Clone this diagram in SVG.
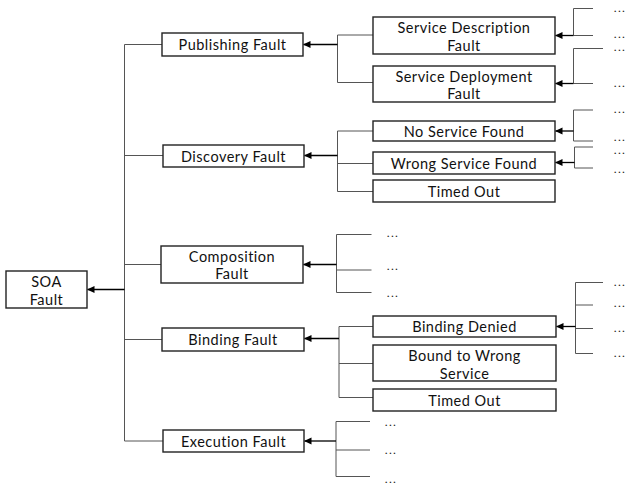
<svg xmlns="http://www.w3.org/2000/svg" width="629" height="487" viewBox="0 0 629 487">
<defs>
<style>
.box{fill:#fff;stroke:#222;stroke-width:1.4}
.t{font-family:Lato,"Open Sans","Liberation Sans",sans-serif;font-size:14.5px;letter-spacing:0.5px;fill:#111;text-anchor:middle;dominant-baseline:central}
.d{font-family:Lato,"Liberation Sans",sans-serif;font-size:10px;fill:#222;font-weight:bold;letter-spacing:1.8px}
.ln{fill:none;stroke:#555;stroke-width:1}
.ar{fill:none;stroke:#000;stroke-width:1.3;marker-end:url(#ah)}
</style>
<marker id="ah" markerUnits="userSpaceOnUse" markerWidth="8" markerHeight="8" viewBox="0 0 8 8" refX="7" refY="4" orient="auto">
<path d="M0,0.5 L7.5,4 L0,7.5 Z" fill="#000"/>
</marker>
</defs>
<rect width="629" height="487" fill="#fff"/>

<g id="connectors">
<!-- main trunk -->
<path class="ln" d="M124.5,44.5 V441 M124.5,44.5 H162 M124.5,155.5 H163 M124.5,264.5 H161 M124.5,339.5 H162 M124.5,441 H163"/>
<path class="ar" d="M124.5,289.5 H87.5"/>
<!-- publishing -->
<path class="ln" d="M337.5,35 V82.5 M337.5,35 H373 M337.5,82.5 H373"/>
<path class="ar" d="M337.5,44.5 H303.5"/>
<!-- discovery -->
<path class="ln" d="M337.5,131 V191.5 M337.5,131 H373 M337.5,163.5 H373 M337.5,191.5 H373"/>
<path class="ar" d="M337.5,155.5 H304.5"/>
<!-- composition -->
<path class="ln" d="M336.5,234.5 V292.5 M336.5,234.5 H371.5 M336.5,270 H371.5 M336.5,292.5 H371.5"/>
<path class="ar" d="M336.5,264.5 H303.5"/>
<!-- binding -->
<path class="ln" d="M339,326.5 V397.5 M339,326.5 H373 M339,363.5 H373 M339,397.5 H373"/>
<path class="ar" d="M339,338.5 H304.5"/>
<!-- execution -->
<path class="ln" d="M336,421.5 V476.5 M336,421.5 H370 M336,450 H370 M336,476.5 H370"/>
<path class="ar" d="M336,441 H304.5"/>
<!-- service description sub -->
<path class="ln" d="M573.5,8.5 V35.5 M573.5,8.5 H593 M573.5,35.5 H593"/>
<path class="ar" d="M573.5,35.5 H555.5"/>
<!-- service deployment sub -->
<path class="ln" d="M573.5,48.5 V83.5 M573.5,48.5 H603 M573.5,83.5 H593"/>
<path class="ar" d="M573.5,83.5 H555.5"/>
<!-- no service found sub -->
<path class="ln" d="M573.5,110 V141 M573.5,110 H593 M573.5,141 H593"/>
<path class="ar" d="M573.5,131 H555.5"/>
<!-- wrong service found sub -->
<path class="ln" d="M574.5,147 V168 M574.5,147 H593 M574.5,168 H593"/>
<path class="ar" d="M574.5,162.5 H555.5"/>
<!-- binding denied sub -->
<path class="ln" d="M575.5,282.5 V353.5 M575.5,282.5 H603 M575.5,305 H593 M575.5,328.5 H593 M575.5,353.5 H593"/>
<path class="ar" d="M575.5,326.5 H556.5"/>
</g>

<g id="soa"><rect class="box" x="6" y="271" width="81" height="37"/><text class="t" x="46.5" y="281">SOA</text><text class="t" x="46.5" y="299">Fault</text></g>
<g id="publishing"><rect class="box" x="162" y="33" width="141" height="23"/><text class="t" x="232.5" y="44.5">Publishing Fault</text></g>
<g id="discovery"><rect class="box" x="163" y="145" width="141" height="22"/><text class="t" x="233.5" y="156">Discovery Fault</text></g>
<g id="composition"><rect class="box" x="161" y="246" width="142" height="37"/><text class="t" x="232" y="256">Composition</text><text class="t" x="232" y="273.5">Fault</text></g>
<g id="binding"><rect class="box" x="162" y="328" width="142" height="23"/><text class="t" x="233" y="339.5">Binding Fault</text></g>
<g id="execution"><rect class="box" x="163" y="430" width="141" height="22"/><text class="t" x="233.5" y="441">Execution Fault</text></g>

<g id="svc-description"><rect class="box" x="373" y="17" width="182" height="37"/><text class="t" x="464" y="27.5">Service Description</text><text class="t" x="464" y="45.5">Fault</text></g>
<g id="svc-deployment"><rect class="box" x="373" y="66" width="182" height="36"/><text class="t" x="464" y="76">Service Deployment</text><text class="t" x="464" y="93">Fault</text></g>
<g id="no-service"><rect class="box" x="373" y="121" width="182" height="20"/><text class="t" x="464" y="131">No Service Found</text></g>
<g id="wrong-service"><rect class="box" x="373" y="152" width="182" height="22"/><text class="t" x="464" y="163">Wrong Service Found</text></g>
<g id="timed-out-1"><rect class="box" x="373" y="180" width="182" height="22"/><text class="t" x="464" y="191">Timed Out</text></g>
<g id="binding-denied"><rect class="box" x="373" y="316" width="183" height="21"/><text class="t" x="464.5" y="326.5">Binding Denied</text></g>
<g id="bound-wrong"><rect class="box" x="373" y="345" width="183" height="36"/><text class="t" x="464.5" y="355">Bound to Wrong</text><text class="t" x="464.5" y="373.5">Service</text></g>
<g id="timed-out-2"><rect class="box" x="373" y="389" width="183" height="22"/><text class="t" x="464.5" y="400">Timed Out</text></g>

<g id="ellipses">
<text class="d" x="614" y="11.5">...</text>
<text class="d" x="614" y="38">...</text>
<text class="d" x="614" y="51">...</text>
<text class="d" x="614" y="86.5">...</text>
<text class="d" x="614" y="112.5">...</text>
<text class="d" x="614" y="141">...</text>
<text class="d" x="614" y="153.5">...</text>
<text class="d" x="614" y="173">...</text>
<text class="d" x="387" y="236.5">...</text>
<text class="d" x="387" y="270">...</text>
<text class="d" x="387" y="297">...</text>
<text class="d" x="614" y="285.5">...</text>
<text class="d" x="614" y="307">...</text>
<text class="d" x="614" y="332">...</text>
<text class="d" x="614" y="357">...</text>
<text class="d" x="385" y="425.5">...</text>
<text class="d" x="385" y="454">...</text>
<text class="d" x="385" y="482.5">...</text>
</g>
</svg>
